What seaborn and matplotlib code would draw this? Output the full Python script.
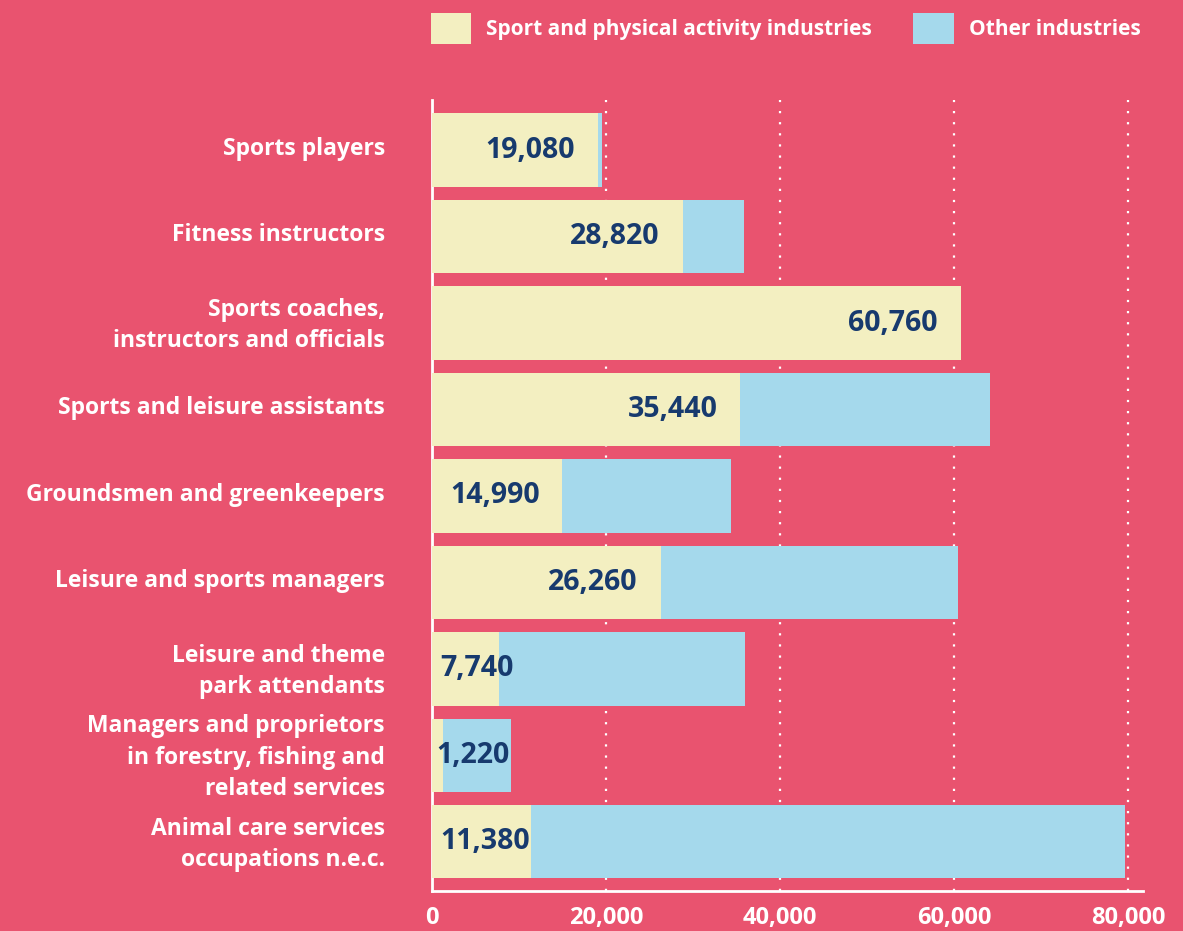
import matplotlib
matplotlib.use('Agg')
import matplotlib.pyplot as plt
import matplotlib.transforms as mtransforms
import seaborn as sns
import pandas as pd
from matplotlib.patches import Patch
from matplotlib.ticker import FuncFormatter

# Data
occupations = [
    'Sports players',
    'Fitness instructors',
    'Sports coaches,\ninstructors and officials',
    'Sports and leisure assistants',
    'Groundsmen and greenkeepers',
    'Leisure and sports managers',
    'Leisure and theme\npark attendants',
    'Managers and proprietors\nin forestry, fishing and\nrelated services',
    'Animal care services\noccupations n.e.c.',
]
sport_jobs = [19080, 28820, 60760, 35440, 14990, 26260, 7740, 1220, 11380]
other_jobs = [460, 7050, 0, 28700, 19380, 34200, 28240, 7860, 68270]
x_ticks = [0, 20000, 40000, 60000, 80000]

BG = '#E9536F'
YELLOW = '#F3EFC1'
BLUE = '#A5D9EC'
NAVY = '#173A6E'
FONT = 'Open Sans'

df = pd.DataFrame({'occupation': occupations, 'sport': sport_jobs, 'other': other_jobs})
df['total'] = df['sport'] + df['other']

sns.set_style('white')
plt.rcParams['font.family'] = [FONT, 'DejaVu Sans']

fig = plt.figure(figsize=(11.83, 9.31), dpi=100, facecolor=BG)
ax = fig.add_axes([0.3652, 0.043, 0.601, 0.8496])
ax.set_facecolor(BG)

# total first (blue), then the sport part on top (yellow)
sns.barplot(data=df, x='total', y='occupation', color=BLUE, saturation=1,
            width=0.85, orient='h', ax=ax, zorder=2, linewidth=0, edgecolor='none')
sns.barplot(data=df, x='sport', y='occupation', color=YELLOW, saturation=1,
            width=0.85, orient='h', ax=ax, zorder=3, linewidth=0, edgecolor='none')

ax.set_xlim(0, 81700)
ax.set_ylim(len(occupations) - 0.43, -0.58)
ax.set_xlabel('')
ax.set_ylabel('')

# value labels inside the yellow bars
for i, v in enumerate(df['sport']):
    label = f'{v:,}'
    if v > 12000:
        ax.text(v - 2640, i, label, ha='right', va='center', color=NAVY,
                fontsize=20.5, fontweight='bold', zorder=5)
    else:
        ax.text(500 if v < 5000 else 1000, i, label, ha='left', va='center',
                color=NAVY, fontsize=20.5, fontweight='bold', zorder=5)

# axes styling
for side in ['top', 'right']:
    ax.spines[side].set_visible(False)
for side in ['left', 'bottom']:
    ax.spines[side].set_color('white')
    ax.spines[side].set_linewidth(2)

ax.set_xticks(x_ticks)
ax.xaxis.set_major_formatter(FuncFormatter(lambda x, p: f'{int(x):,}'))
ax.tick_params(axis='x', direction='in', length=4, width=1.2, color='white',
               pad=11, labelsize=17, labelcolor='white')
ax.tick_params(axis='y', length=0, pad=34, labelsize=16.5, labelcolor='white')
for lab in ax.get_xticklabels() + ax.get_yticklabels():
    lab.set_fontweight('bold')

# category labels sit a little above the bar centres in the original
shift_up = mtransforms.ScaledTranslation(0, 3 / 72, fig.dpi_scale_trans)
for lab in ax.get_yticklabels():
    lab.set_linespacing(1.4)
    lab.set_transform(lab.get_transform() + shift_up)

ax.grid(axis='x', color='white', linestyle=(0, (1, 4)), linewidth=1.6, zorder=1)
ax.grid(axis='y', visible=False)
ax.set_axisbelow(True)

# legend at the top
handles = [Patch(facecolor=YELLOW, edgecolor='none', label='Sport and physical activity industries'),
           Patch(facecolor=BLUE, edgecolor='none', label='Other industries')]
leg = fig.legend(handles=handles, loc='upper left', bbox_to_anchor=(0.350, 1.004),
                 ncol=2, frameon=False, handlelength=1.95, handleheight=1.95,
                 handletextpad=0.7, columnspacing=2.0, borderaxespad=0.4,
                 prop={'family': FONT, 'weight': 'bold', 'size': 15})
for t in leg.get_texts():
    t.set_color('white')

fig.savefig('out.png', dpi=100, facecolor=BG)
